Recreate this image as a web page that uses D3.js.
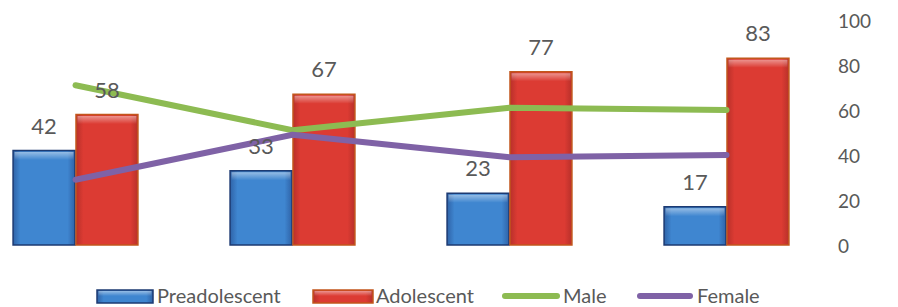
<!DOCTYPE html>
<html>
<head>
<meta charset="utf-8">
<script src="https://cdn.jsdelivr.net/npm/d3@7"></script>
<style>
  body { margin: 0; background: #fff; }
  text { font-family: Lato, "Open Sans", sans-serif; fill: #595959; }
</style>
</head>
<body>
<script>
var categories = ['G1', 'G2', 'G3', 'G4'];
var preadolescent = [42, 33, 23, 17];
var adolescent = [58, 67, 77, 83];
var male = [71, 51, 61, 60];
var female = [29, 49, 39, 40];
var yTicks = [0, 20, 40, 60, 80, 100];

var width = 898, height = 307;

var svg = d3.select('body').append('svg')
  .attr('width', width)
  .attr('height', height);

var defs = svg.append('defs');

function barGradient(id, edge, mid) {
  var g = defs.append('linearGradient').attr('id', id)
    .attr('x1', 0).attr('x2', 1).attr('y1', 0).attr('y2', 0);
  g.append('stop').attr('offset', '0%').attr('stop-color', edge);
  g.append('stop').attr('offset', '12%').attr('stop-color', mid);
  g.append('stop').attr('offset', '88%').attr('stop-color', mid);
  g.append('stop').attr('offset', '100%').attr('stop-color', edge);
}
barGradient('gBlue', '#2f63a8', '#3f86d0');
barGradient('gRed', '#b8302a', '#dc3b33');

var topShine = defs.append('linearGradient').attr('id', 'gTop')
  .attr('x1', 0).attr('x2', 0).attr('y1', 0).attr('y2', 1);
topShine.append('stop').attr('offset', '0%').attr('stop-color', '#fff').attr('stop-opacity', 0.45);
topShine.append('stop').attr('offset', '100%').attr('stop-color', '#fff').attr('stop-opacity', 0);

var x = d3.scaleBand()
  .domain(categories)
  .range([-33, 835])
  .paddingInner(0.42)
  .paddingOuter(0.21);

var series = [
  {name: 'Preadolescent', values: preadolescent, fill: 'url(#gBlue)', stroke: '#1c3a72'},
  {name: 'Adolescent', values: adolescent, fill: 'url(#gRed)', stroke: '#c2561c'}
];

var x1 = d3.scaleBand()
  .domain(series.map(function(s) { return s.name; }))
  .range([0, x.bandwidth()]);

var y = d3.scaleLinear().domain([0, 100]).range([245, 20]);

// right axis labels
svg.append('g').selectAll('text')
  .data(yTicks)
  .enter().append('text')
  .attr('x', 838)
  .attr('y', function(d) { return y(d) + 1; })
  .attr('dy', '0.35em')
  .style('font-size', '19px')
  .text(function(d) { return d; });

// bars
series.forEach(function(s) {
  var g = svg.append('g');
  g.selectAll('rect.bar')
    .data(s.values)
    .enter().append('rect')
    .attr('class', 'bar')
    .attr('x', function(d, i) { return x(categories[i]) + x1(s.name) + 0.5; })
    .attr('y', function(d) { return y(d); })
    .attr('width', x1.bandwidth() - 1)
    .attr('height', function(d) { return y(0) - y(d); })
    .attr('fill', s.fill)
    .attr('stroke', s.stroke)
    .attr('stroke-width', 1.5);
  g.selectAll('rect.hl')
    .data(s.values)
    .enter().append('rect')
    .attr('class', 'hl')
    .attr('x', function(d, i) { return x(categories[i]) + x1(s.name) + 2; })
    .attr('y', function(d) { return y(d) + 1.5; })
    .attr('width', x1.bandwidth() - 4)
    .attr('height', 8)
    .attr('fill', 'url(#gTop)');
});

// lines
var line = d3.line()
  .x(function(d, i) { return x(categories[i]) + x.bandwidth() / 2; })
  .y(function(d) { return y(d); });

var lines = [
  {name: 'Male', values: male, color: '#8dbb52'},
  {name: 'Female', values: female, color: '#7f62a6'}
];

lines.forEach(function(l) {
  svg.append('path')
    .datum(l.values)
    .attr('d', line)
    .attr('fill', 'none')
    .attr('stroke', l.color)
    .attr('stroke-width', 6)
    .attr('stroke-linecap', 'round')
    .attr('stroke-linejoin', 'round');
});

// data labels
series.forEach(function(s) {
  svg.append('g').selectAll('text')
    .data(s.values)
    .enter().append('text')
    .attr('x', function(d, i) { return x(categories[i]) + x1(s.name) + x1.bandwidth() / 2; })
    .attr('y', function(d) { return y(d) - 17; })
    .attr('text-anchor', 'middle')
    .style('font-size', '22px')
    .text(function(d) { return d; });
});

// legend
var legend = svg.append('g');
var items = [
  {name: 'Preadolescent', type: 'rect', fill: 'url(#gBlue)', stroke: '#1c3a72', sx: 97, sw: 56, tx: 157},
  {name: 'Adolescent', type: 'rect', fill: 'url(#gRed)', stroke: '#c2561c', sx: 313, sw: 60, tx: 376},
  {name: 'Male', type: 'line', color: '#8dbb52', sx: 502, sw: 58, tx: 563},
  {name: 'Female', type: 'line', color: '#7f62a6', sx: 637, sw: 56, tx: 697}
];
items.forEach(function(it) {
  if (it.type === 'rect') {
    legend.append('rect')
      .attr('x', it.sx).attr('y', 290).attr('width', it.sw).attr('height', 13)
      .attr('fill', it.fill).attr('stroke', it.stroke).attr('stroke-width', 1.5);
    legend.append('rect')
      .attr('x', it.sx + 1.5).attr('y', 291).attr('width', it.sw - 3).attr('height', 5)
      .attr('fill', 'url(#gTop)');
  } else {
    legend.append('line')
      .attr('x1', it.sx + 3).attr('x2', it.sx + it.sw - 3)
      .attr('y1', 296).attr('y2', 296)
      .attr('stroke', it.color).attr('stroke-width', 6)
      .attr('stroke-linecap', 'round');
  }
  legend.append('text')
    .attr('x', it.tx).attr('y', 296)
    .attr('dy', '0.35em')
    .style('font-size', '20px')
    .text(it.name);
});
</script>
</body>
</html>
